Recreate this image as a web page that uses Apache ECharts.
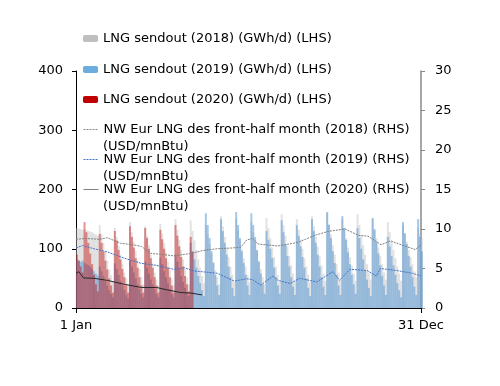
<!DOCTYPE html>
<html><head><meta charset="utf-8">
<script src="https://cdn.jsdelivr.net/npm/echarts@6/dist/echarts.min.js"></script>
<style>html,body{margin:0;padding:0;background:#fff}#c{width:500px;height:386px}</style>
</head><body><div id="c"></div>
<script>
// LNG sendout, GWh/d, one value per 2-day step (Jan 1 .. Dec 31)
var sendout2018 = [135,134,133,132,133,131,130,129,128,126,124,122,
140,125,110,95,80,65,55,45, 135,120,105,90,75,60,50,40, 145,128,112,96,80,66,52,40,
138,122,106,90,75,60,48,38, 142,126,110,94,78,64,50,38, 150,132,115,98,82,66,52,40,
148,130,114,98,82,68,54,42, 140,124,108,92,78,64,52,40, 155,138,120,102,86,70,56,44,
150,132,116,100,84,70,56,44, 145,128,112,96,80,66,52,40, 152,135,118,102,86,70,56,44,
158,140,122,104,88,72,58,45, 150,132,116,100,84,70,56,44, 155,138,120,104,88,72,58,46,
160,142,124,106,90,74,60,48, 150,134,118,102,86,72,58,46, 158,140,122,106,90,74,60,48,
150,134,118,102,88,74,60,48, 145,128,112,98,84,70,58,46, 140,126,112,98,86,74,62,52,
135,125,118];
var sendout2019 = [82,80,78,80,76,74,72,70,66,62,58,55,
70,62,54,46,38,30,24,18, 75,66,56,46,38,30,22,16, 80,70,60,50,40,32,24,18,
78,68,58,48,40,32,24,18, 85,74,62,52,42,32,24,18, 90,78,66,54,44,34,26,20,
110,96,82,68,54,42,30,20, 160,140,118,96,76,56,38,22, 150,130,110,90,70,52,34,20,
162,140,118,96,76,56,38,22, 160,140,120,98,78,58,40,24, 130,115,100,84,68,52,38,24,
148,128,108,88,70,52,36,22, 140,122,104,86,68,50,34,20, 150,130,110,90,70,52,36,22,
162,140,118,96,76,56,38,22, 155,135,115,94,74,56,40,24, 135,118,100,82,64,48,34,20,
152,132,112,92,72,54,38,22, 120,104,88,72,56,42,30,18, 145,126,108,88,70,52,36,22,
150,120,95];
var sendout2020 = [90,80,70,60,
145,128,110,92,74,56,40,28, 125,110,95,80,65,50,38,26, 130,114,98,82,66,52,38,26,
138,120,102,84,68,52,38,26, 135,118,100,84,68,52,38,26, 132,116,100,84,68,52,38,26,
140,122,104,86,70,54,40,28, 120,95];

// NW Eur LNG des front-half month, USD/mnBtu: [day of year, value]
var price2018 = [[0,8.7],[10,8.8],[25,8.7],[33,8.9],[47,8.2],[60,8.0],[69,7.8],[79,6.9],[90,6.8],[103,6.6],[121,6.9],[135,7.3],[149,7.5],[165,7.6],[174,7.7],[180,8.6],[186,8.8],[192,8.1],[213,7.85],[234,8.3],[252,9.2],[266,9.7],[284,10.0],[298,9.2],[308,9.1],[322,8.0],[332,8.5],[343,8.0],[358,7.4],[364,8.0]];
var price2019 = [[0,7.6],[7,7.9],[19,7.5],[33,7.1],[51,6.3],[69,5.65],[85,5.4],[103,4.9],[114,5.1],[124,4.7],[149,4.4],[167,3.4],[180,3.7],[186,3.6],[195,2.9],[208,4.05],[213,3.5],[226,3.1],[236,3.76],[254,3.3],[271,4.6],[278,3.5],[289,4.9],[307,4.75],[317,4.05],[321,5.0],[338,4.75],[355,4.4],[364,4.05]];
var price2020 = [[0,4.4],[3,4.6],[8,3.8],[19,3.76],[33,3.5],[51,3.0],[69,2.6],[85,2.6],[96,2.3],[111,1.95],[121,1.9],[133,1.65]];

var xTickLabels = {0: '1 Jan', 364: '31 Dec'};
var names = ['LNG sendout (2018) (GWh/d) (LHS)','LNG sendout (2019) (GWh/d) (LHS)','LNG sendout (2020) (GWh/d) (LHS)',
 'NW Eur LNG des front-half month (2018) (RHS)','NW Eur LNG des front-half month (2019) (RHS)','NW Eur LNG des front-half month (2020) (RHS)'];

function toPairs(arr){ return arr.map(function(v,i){ return [2*i+1, v]; }); }

var FONT = 'DejaVu Sans';
var chart = echarts.init(document.getElementById('c'), null, {renderer:'canvas'});
var legendTops = [32,63,93,123,153,183];
var legendColors = ['#bfbfbf','#6aaee0','#c00000',null,null,null];
var legendLineColors = [null,null,null,'#8c8c8c','#4472c4','#808080'];
var legends = names.map(function(n,i){
  var d = {name:n};
  if (legendColors[i]) d.itemStyle = {color: legendColors[i], opacity:1};
  else { d.itemStyle = {opacity:0}; d.lineStyle = {width:1, color: legendLineColors[i]}; }
  return {show:true, orient:'vertical', left:83, top:legendTops[i], itemWidth:15, itemHeight:7, padding:0,
    selectedMode:false, data:[d], lineStyle:{width:1}, textStyle:{fontFamily:FONT, fontSize:13, color:'#000'}};
});
var barCommon = {type:'bar', barWidth:2, barGap:'-100%', xAxisIndex:0, yAxisIndex:0, large:false, animation:false};
chart.setOption({
  animation:false,
  legend: legends,
  grid:{left:76, right:79, top:71, bottom:78},
  xAxis:{type:'value', min:0, max:364, interval:364,
    axisLine:{show:true, lineStyle:{color:'#000', width:1}},
    axisTick:{show:true, length:5, lineStyle:{color:'#000'}},
    axisLabel:{fontFamily:FONT, fontSize:13, color:'#000', margin:11, formatter:function(v){return xTickLabels[v]||'';}},
    splitLine:{show:false}},
  yAxis:[
    {type:'value', min:0, max:400, interval:100, position:'left',
     axisLine:{show:true, lineStyle:{color:'#000', width:1}},
     axisTick:{show:true, length:4, lineStyle:{color:'#000'}},
     axisLabel:{fontFamily:FONT, fontSize:13, color:'#000', margin:13},
     splitLine:{show:false}},
    {type:'value', min:0, max:30, interval:5, position:'right',
     axisLine:{show:true, lineStyle:{color:'#888', width:1.5}},
     axisTick:{show:true, length:4, lineStyle:{color:'#888'}},
     axisLabel:{fontFamily:FONT, fontSize:13, color:'#000', margin:14},
     splitLine:{show:false}}
  ],
  graphic:[
    {type:'text', left:103, top:140, style:{text:'(USD/mnBtu)', font:'13px "DejaVu Sans"', fill:'#000'}},
    {type:'text', left:103, top:170, style:{text:'(USD/mnBtu)', font:'13px "DejaVu Sans"', fill:'#000'}},
    {type:'text', left:103, top:200, style:{text:'(USD/mnBtu)', font:'13px "DejaVu Sans"', fill:'#000'}}
  ],
  series:[
    Object.assign({}, barCommon, {name:names[0], data:toPairs(sendout2018), itemStyle:{color:'rgba(190,190,190,0.45)'}}),
    Object.assign({}, barCommon, {name:names[1], data:toPairs(sendout2019), itemStyle:{color:'rgba(91,155,213,0.55)'}}),
    Object.assign({}, barCommon, {name:names[2], data:toPairs(sendout2020), itemStyle:{color:'rgba(192,0,0,0.42)'}}),
    {type:'line', name:names[3], yAxisIndex:1, data:price2018, symbol:'none', lineStyle:{color:'#7f7f7f', width:1, type:[2,1]}, itemStyle:{color:'#7f7f7f'}},
    {type:'line', name:names[4], yAxisIndex:1, data:price2019, symbol:'none', lineStyle:{color:'#4472c4', width:1, type:[2,1]}, itemStyle:{color:'#4472c4'}},
    {type:'line', name:names[5], yAxisIndex:1, data:price2020, symbol:'none', lineStyle:{color:'#262626', width:1, type:'solid'}, itemStyle:{color:'#262626'}}
  ]
});
</script></body></html>
